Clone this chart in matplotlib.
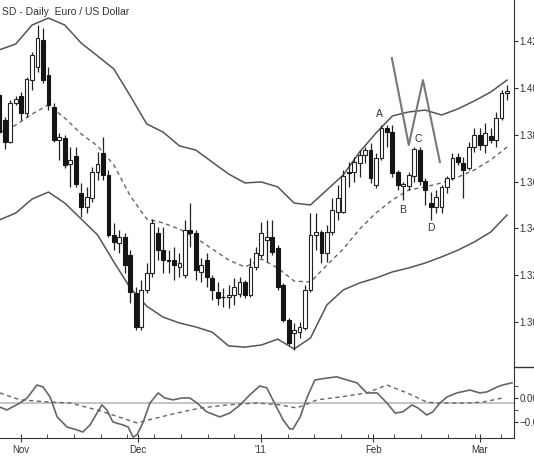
import matplotlib.pyplot as plt
import numpy as np
from matplotlib.lines import Line2D

plt.rcParams['font.family'] = ['Liberation Sans', 'DejaVu Sans']

# daily EUR/USD candles, 26 Oct 2010 .. 8 Mar 2011
opens = [1.3969, 1.3863, 1.3769, 1.3935, 1.3965, 1.3892, 1.4033, 1.4089, 1.4204, 1.4055,
         1.3918, 1.3777, 1.3786, 1.3675, 1.3709, 1.3551, 1.3491, 1.3530, 1.3641, 1.3722,
         1.3628, 1.3372, 1.3337, 1.3363, 1.3286, 1.3124, 1.2979, 1.3137, 1.3209, 1.3380,
         1.3307, 1.3265, 1.3265, 1.3235, 1.3201, 1.3393, 1.3380, 1.3214, 1.3265, 1.3188,
         1.3128, 1.3107, 1.3107, 1.3115, 1.3120, 1.3171, 1.3115, 1.3235, 1.3286, 1.3350,
         1.3363, 1.3316, 1.3158, 1.3009, 1.2953, 1.2957, 1.2974, 1.3137, 1.3372, 1.3384,
         1.3295, 1.3384, 1.3470, 1.3470, 1.3641, 1.3641, 1.3679, 1.3713, 1.3734, 1.3585,
         1.3700, 1.3828, 1.3811, 1.3641, 1.3581, 1.3581, 1.3623, 1.3734, 1.3602, 1.3508,
         1.3491, 1.3491, 1.3577, 1.3615, 1.3705, 1.3679, 1.3658, 1.3747, 1.3799, 1.3756,
         1.3794, 1.3777, 1.3871, 1.3978]
highs = [1.3982, 1.3875, 1.3948, 1.3965, 1.3982, 1.4046, 1.4153, 1.4268, 1.4255, 1.4089,
         1.3935, 1.3807, 1.3799, 1.3747, 1.3747, 1.3594, 1.3577, 1.3662, 1.3726, 1.3790,
         1.3649, 1.3423, 1.3393, 1.3380, 1.3307, 1.3150, 1.3179, 1.3252, 1.3440, 1.3406,
         1.3406, 1.3307, 1.3320, 1.3295, 1.3436, 1.3508, 1.3393, 1.3273, 1.3295, 1.3201,
         1.3171, 1.3145, 1.3158, 1.3188, 1.3192, 1.3179, 1.3273, 1.3320, 1.3427, 1.3436,
         1.3436, 1.3329, 1.3167, 1.3017, 1.2996, 1.3000, 1.3158, 1.3465, 1.3465, 1.3393,
         1.3414, 1.3530, 1.3585, 1.3649, 1.3683, 1.3705, 1.3734, 1.3747, 1.3764, 1.3722,
         1.3841, 1.3841, 1.3841, 1.3649, 1.3598, 1.3641, 1.3747, 1.3747, 1.3615, 1.3555,
         1.3564, 1.3585, 1.3623, 1.3722, 1.3722, 1.3705, 1.3769, 1.3828, 1.3828, 1.3850,
         1.3828, 1.3897, 1.3991, 1.4012]
lows = [1.3799, 1.3739, 1.3764, 1.3927, 1.3863, 1.3875, 1.3991, 1.4068, 1.4021, 1.3905,
        1.3769, 1.3692, 1.3658, 1.3577, 1.3577, 1.3448, 1.3465, 1.3512, 1.3606, 1.3606,
        1.3363, 1.3307, 1.3295, 1.3209, 1.3081, 1.2966, 1.2966, 1.3124, 1.3192, 1.3265,
        1.3209, 1.3209, 1.3179, 1.3192, 1.3188, 1.3320, 1.3179, 1.3171, 1.3150, 1.3094,
        1.3073, 1.3064, 1.3060, 1.3073, 1.3107, 1.3103, 1.3107, 1.3222, 1.3273, 1.3256,
        1.3286, 1.3137, 1.3000, 1.2902, 1.2880, 1.2932, 1.2966, 1.3128, 1.3307, 1.3252,
        1.3256, 1.3372, 1.3436, 1.3465, 1.3577, 1.3598, 1.3619, 1.3679, 1.3594, 1.3572,
        1.3692, 1.3747, 1.3619, 1.3564, 1.3521, 1.3564, 1.3598, 1.3585, 1.3500, 1.3436,
        1.3465, 1.3465, 1.3551, 1.3606, 1.3670, 1.3530, 1.3649, 1.3726, 1.3734, 1.3722,
        1.3764, 1.3747, 1.3863, 1.3948]
closes = [1.3811, 1.3769, 1.3935, 1.3952, 1.3892, 1.4038, 1.4140, 1.4213, 1.4033, 1.3927,
          1.3777, 1.3790, 1.3670, 1.3692, 1.3589, 1.3491, 1.3534, 1.3641, 1.3675, 1.3628,
          1.3372, 1.3342, 1.3363, 1.3243, 1.3128, 1.2979, 1.3137, 1.3209, 1.3423, 1.3307,
          1.3265, 1.3260, 1.3243, 1.3252, 1.3393, 1.3380, 1.3222, 1.3243, 1.3192, 1.3137,
          1.3103, 1.3105, 1.3115, 1.3150, 1.3171, 1.3115, 1.3235, 1.3295, 1.3380, 1.3363,
          1.3299, 1.3150, 1.3009, 1.2910, 1.2966, 1.2979, 1.3137, 1.3372, 1.3384, 1.3295,
          1.3384, 1.3478, 1.3530, 1.3623, 1.3636, 1.3683, 1.3713, 1.3734, 1.3615, 1.3700,
          1.3828, 1.3811, 1.3636, 1.3585, 1.3589, 1.3628, 1.3739, 1.3602, 1.3564, 1.3491,
          1.3534, 1.3577, 1.3615, 1.3700, 1.3683, 1.3649, 1.3747, 1.3799, 1.3756, 1.3807,
          1.3777, 1.3871, 1.3978, 1.3986]

# Bollinger bands, read every third bar
band_bar = list(range(0, 94, 3))
upper = [1.4162, 1.4187, 1.4268, 1.4298, 1.4268, 1.4191, 1.4136, 1.4080, 1.3965, 1.3846,
         1.3811, 1.3752, 1.3734, 1.3683, 1.3632, 1.3594, 1.3598, 1.3577, 1.3508, 1.3500,
         1.3564, 1.3628, 1.3726, 1.3807, 1.3880, 1.3897, 1.3905, 1.3884, 1.3910, 1.3944,
         1.3982, 1.4033]
middle = [1.3807, 1.3841, 1.3888, 1.3927, 1.3871, 1.3803, 1.3752, 1.3670, 1.3538, 1.3440,
          1.3423, 1.3397, 1.3359, 1.3312, 1.3265, 1.3235, 1.3269, 1.3231, 1.3175, 1.3171,
          1.3243, 1.3312, 1.3397, 1.3466, 1.3521, 1.3564, 1.3577, 1.3594, 1.3619, 1.3649,
          1.3692, 1.3747]
lower = [1.3436, 1.3465, 1.3525, 1.3555, 1.3508, 1.3440, 1.3372, 1.3256, 1.3145, 1.3068,
         1.3021, 1.2996, 1.2979, 1.2957, 1.2898, 1.2893, 1.2902, 1.2927, 1.2885, 1.2932,
         1.3073, 1.3137, 1.3167, 1.3188, 1.3214, 1.3231, 1.3252, 1.3278, 1.3307, 1.3342,
         1.3384, 1.3457]

# lower panel oscillator (solid) and its signal (dashed)
osc_bar = [0.1, 1.4, 3.8, 5.1, 6.9, 8.0, 9.3, 10.6, 12.4, 14.2, 15.3, 16.6, 17.9, 18.8, 19.7,
           20.8, 22.7, 23.6, 24.5, 25.2, 26.3, 27.6, 29.1, 30.3, 31.8, 33.5, 34.9, 36.2, 38.0,
           40.4, 42.2, 44.1, 45.9, 47.7, 49.0, 50.1, 52.0, 53.2, 53.8, 55.1, 56.4, 57.8, 60.0,
           61.8, 63.7, 65.5, 67.3, 69.2, 71.0, 72.5, 73.9, 75.6, 76.7, 78.3, 79.4, 80.7, 82.0,
           83.8, 86.2, 88.0, 89.3, 91.2, 92.2, 93.9]
osc = [-0.0038, -0.0050, -0.0021, 0.0, 0.0054, 0.0046, 0.0004, -0.0079, -0.0121, -0.0133,
       -0.0142, -0.0113, -0.0063, -0.0029, -0.0050, -0.0100, -0.0113, -0.0121, -0.0163, -0.0154,
       -0.0104, -0.0021, 0.0021, 0.0, -0.0008, 0.0, 0.0, -0.0021, -0.0058, -0.0079,
       -0.0063, -0.0029, 0.0013, 0.0050, 0.0042, -0.0008, -0.0092, -0.0129, -0.0129, -0.0079,
       0.0004, 0.0075, 0.0083, 0.0088, 0.0075, 0.0063, 0.0021, 0.0021, -0.0021, -0.0063,
       -0.0058, -0.0029, -0.0042, -0.0071, -0.0058, -0.0021, 0.0004, 0.0021, 0.0033, 0.0021,
       0.0025, 0.0046, 0.0054, 0.0063]
sig_bar = [0.1, 3.8, 9.3, 13.0, 17.9, 20.8, 25.2, 28.9, 32.5, 36.8, 41.7, 47.2, 51.4, 54.5,
           58.2, 62.4, 67.3, 71.0, 74.7, 78.3, 80.2, 85.7, 88.6, 92.2]
sig = [0.0021, -0.0008, -0.0017, -0.0021, -0.0050, -0.0071, -0.0104, -0.0083, -0.0063, -0.0042,
       -0.0029, -0.0021, -0.0029, -0.0042, -0.0008, 0.0004, 0.0021, 0.0054, 0.0021, -0.0017,
       -0.0021, -0.0021, -0.0017, 0.0]
osc_base = -0.0021

month_pos = [3.92, 25.46, 47.9, 68.5, 88.0]
month_labels = ['Nov', 'Dec', "'11", 'Feb', 'Mar']

ink = '#222222'
txt = '#333333'

fig = plt.figure(figsize=(5.34, 4.62), dpi=100)
ax = fig.add_axes([0, 0.2056, 0.9625, 0.7944])
ax2 = fig.add_axes([0, 0.0519, 0.9625, 0.1537], sharex=ax)

o = np.array(opens)
h = np.array(highs)
l = np.array(lows)
c = np.array(closes)
x = np.arange(len(o))
up = c >= o
lo = np.minimum(o, c)
hgt = np.maximum(np.abs(c - o), 0.0004)

ax.vlines(x, l, h, color=ink, lw=0.9, zorder=2)
ax.bar(x[up], hgt[up], bottom=lo[up], width=0.7, color='white', edgecolor=ink, lw=0.8, zorder=3)
ax.bar(x[~up], hgt[~up], bottom=lo[~up], width=0.7, color='#151515', edgecolor='#151515', lw=0.8, zorder=3)

ax.plot(band_bar, upper, color='#555555', lw=1.1, zorder=1)
ax.plot(band_bar, lower, color='#555555', lw=1.1, zorder=1)
ax.plot(band_bar, middle, color='#666666', lw=1.0, ls=(0, (3, 2.5)), zorder=1)

# hand-drawn pattern lines and labels
ax.plot([71.9, 75.0, 77.6, 80.7], [1.4127, 1.3756, 1.4033, 1.3683], color='#777777', lw=1.5, zorder=4)
for lab, lx, ly in [('A', 69.7, 1.3888), ('B', 73.9, 1.3478), ('C', 76.7, 1.3782), ('D', 79.1, 1.3401)]:
    ax.text(lx, ly, lab, fontsize=7.5, color=txt, ha='center', va='center')

ax.set_xlim(0.13, 94.27)
ax.set_ylim(1.2808, 1.4375)
ax.yaxis.tick_right()
ax.set_yticks([1.30, 1.32, 1.34, 1.36, 1.38, 1.40, 1.42])
ax.set_yticklabels(['1.30', '1.32', '1.34', '1.36', '1.38', '1.40', '1.42'])
ax.tick_params(axis='y', direction='out', length=3, labelsize=7, colors=txt, pad=1)
ax.tick_params(axis='x', which='both', bottom=False, labelbottom=False)
for s in ['left', 'top', 'bottom']:
    ax.spines[s].set_visible(False)
ax.spines['right'].set_color(txt)

ax2.axhline(osc_base, color='#bbbbbb', lw=1.2, zorder=1)
ax2.plot(osc_bar, osc, color='#666666', lw=1.2, zorder=3)
ax2.plot(sig_bar, sig, color='#666666', lw=1.0, ls=(0, (3, 2.5)), zorder=2)
ax2.set_ylim(-0.0167, 0.0129)
ax2.yaxis.tick_right()
ax2.set_yticks([-0.01, 0.0])
ax2.set_yticklabels(['\u22120.01', '0.00'])
ax2.set_yticks([-0.005, 0.005], minor=True)
ax2.tick_params(axis='y', which='both', direction='out', length=3, labelsize=7, colors=txt, pad=1)
ax2.set_xticks(month_pos)
ax2.set_xticklabels(month_labels)
ax2.set_xticks(3.92 + 4.89 * np.arange(19), minor=True)
ax2.tick_params(axis='x', which='major', direction='inout', length=6, labelsize=7, colors=txt, pad=2)
ax2.tick_params(axis='x', which='minor', direction='in', length=3, colors=txt)
for s in ['left', 'top']:
    ax2.spines[s].set_visible(False)
ax2.spines['right'].set_color(txt)
ax2.spines['bottom'].set_color(txt)

fig.add_artist(Line2D([0.9625, 1.0], [0.2056, 0.2056], color=txt, lw=1))
fig.text(0.004, 0.973, 'SD - Daily  Euro / US Dollar', fontsize=7.5, color=txt, va='center')

fig.savefig('out.png', dpi=100)
